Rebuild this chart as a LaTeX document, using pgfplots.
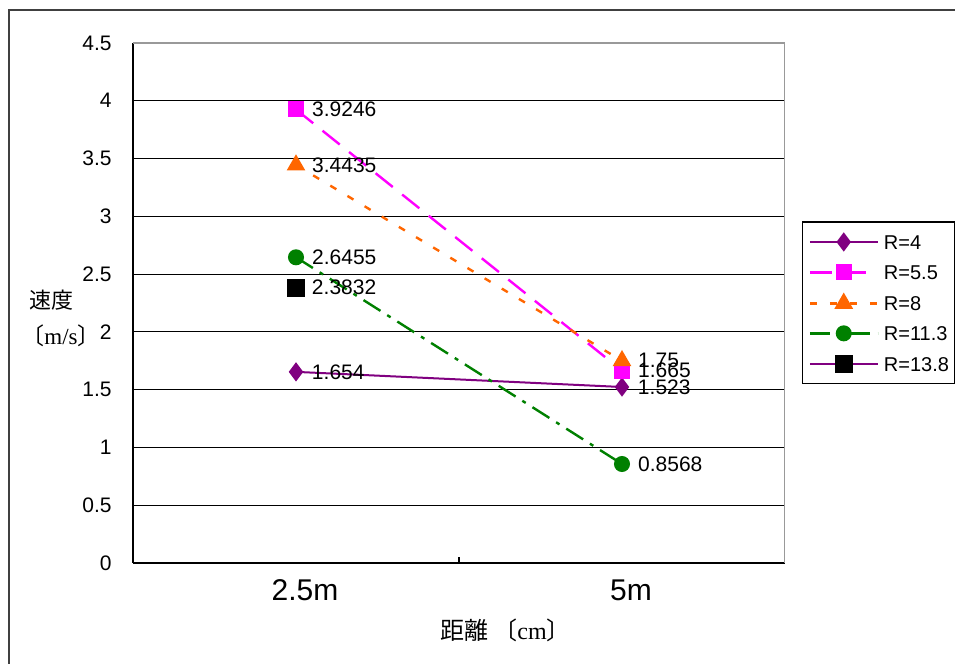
\documentclass[border=0pt]{standalone}
\usepackage{pgfplots}
\pgfplotsset{compat=1.18}
\usepackage{fontspec}
\setmainfont{Liberation Sans}
\newfontfamily\cjk{Noto Sans CJK JP}
\newfontfamily\serif{Liberation Serif}
\definecolor{cpurple}{RGB}{128,0,128}
\definecolor{cmag}{RGB}{255,0,255}
\definecolor{corange}{RGB}{255,102,0}
\definecolor{cgreen}{RGB}{0,128,0}
\begin{document}
\begin{tikzpicture}
\useasboundingbox (0,0) rectangle (477.5pt,332pt);
\draw[line width=0.75pt, black!75] (4.5pt,-2pt) -- (4.5pt,327pt) -- (480pt,327pt);
\begin{axis}[
  at={(66.5pt,50.5pt)}, anchor=south west,
  scale only axis, width=326pt, height=260pt,
  xmin=0, xmax=2, ymin=0, ymax=4.5,
  axis x line*=bottom, axis y line*=left,
  axis line style={black, line width=0.6pt},
  /pgf/number format/assume math mode=true,
  major tick length=0pt,
  xtick={0.5,1.5}, xticklabels={2.5m,5m},
  x tick label style={font=\fontsize{15}{15}\selectfont, anchor=north, inner sep=0pt, yshift=-8pt, xshift=4.5pt},
  extra x ticks={1}, extra x tick labels={},
  extra x tick style={major tick length=3pt, tick align=inside, tick style={black, line width=0.6pt}},
  ytick={0,0.5,1,1.5,2,2.5,3,3.5,4},
  extra y ticks={4.5},
  extra y tick style={grid=none},
  y tick label style={font=\fontsize{10.5}{10.5}\selectfont, anchor=east, inner sep=0pt, xshift=-10.5pt},
  ymajorgrids, grid style={black, line width=0.5pt},
  point meta=explicit symbolic,
  nodes near coords,
  nodes near coords style={anchor=west, xshift=7.5pt, inner sep=0pt, font=\fontsize{10.5}{10.5}\selectfont, text=black},
  legend cell align=left,
  legend image code/.code={\draw[mark repeat=2,mark phase=2] plot coordinates {(0pt,0pt) (17pt,0pt) (34pt,0pt)};},
  legend style={at={(1.026,0.657)}, anchor=north west, draw=black, line width=0.6pt,
    font=\fontsize{10}{10}\selectfont, inner xsep=3pt, inner ysep=6pt, row sep=7.5pt,
    nodes={inner sep=0pt, text height=7.5pt, text depth=0pt},
    /tikz/every odd column/.append style={column sep=2.5pt}},
]
\draw[black!40, line width=0.6pt] (rel axis cs:0,1) -- (rel axis cs:1,1) -- (rel axis cs:1,0);
\addplot[cpurple, line width=1pt, mark=diamond*, mark size=4pt, mark options={solid, fill=cpurple}]
  coordinates {(0.5,1.654)[1.654] (1.5,1.523)[1.523]};
\addlegendentry{R=4}
\addplot[cmag, line width=1.2pt, dash pattern=on 11pt off 6pt, mark=square*, mark size=3.4pt, mark options={solid, fill=cmag}]
  coordinates {(0.5,3.9246)[3.9246] (1.5,1.665)[1.665]};
\addlegendentry{R=5.5}
\addplot[corange, line width=1.2pt, dash pattern=on 3.5pt off 6.5pt, mark=triangle*, mark size=4.2pt, mark options={solid, fill=corange}]
  coordinates {(0.5,3.4435)[3.4435] (1.5,1.75)[1.75]};
\addlegendentry{R=8}
\addplot[cgreen, line width=1.2pt, dash pattern=on 10pt off 4pt on 2pt off 4pt, mark=*, mark size=3.4pt, mark options={solid, fill=cgreen}]
  coordinates {(0.5,2.6455)[2.6455] (1.5,0.8568)[0.8568]};
\addlegendentry{R=11.3}
\addplot[cpurple, line width=1pt, mark=square*, mark size=4pt, mark options={solid, fill=black, draw=black}]
  coordinates {(0.5,2.3832)[2.3832]};
\addlegendentry{R=13.8}
\end{axis}
\node[font=\cjk\fontsize{11}{11}\selectfont] at (26pt,182pt) {速度};
\node[font=\fontsize{11.5}{11.5}\selectfont] at (30.5pt,164pt) {{\cjk 〔}{\serif m/s}{\cjk 〕}};
\node[anchor=west, font=\fontsize{12}{12}\selectfont] at (216.5pt,17pt) {{\cjk 距離\ 〔}{\serif cm}{\cjk 〕}};
\end{tikzpicture}
\end{document}
